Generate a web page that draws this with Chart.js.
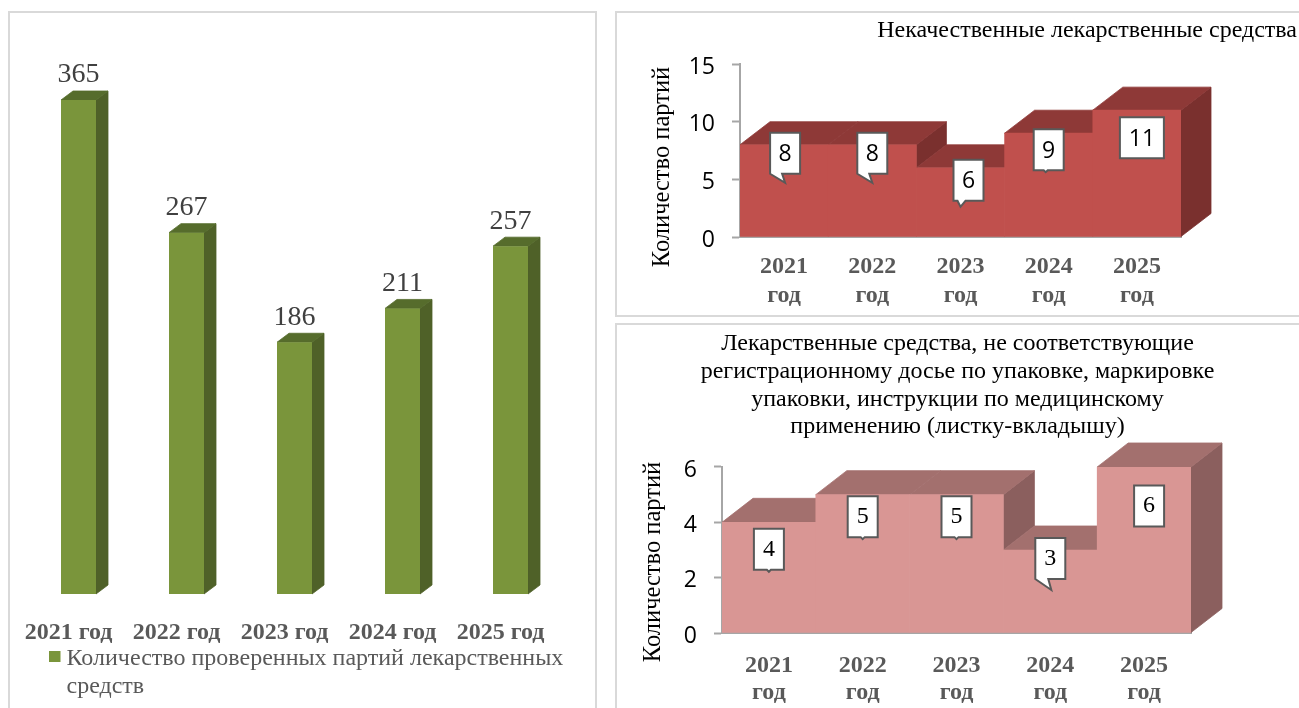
<!DOCTYPE html>
<html>
<head>
<meta charset="utf-8">
<title>Партии лекарственных средств</title>
<script src="https://cdn.jsdelivr.net/npm/chart.js@4"></script>
<style>
  html, body { margin: 0; padding: 0; background: #fff; overflow: hidden; width: 1299px; height: 708px; }
  .panel { position: absolute; border: 2px solid #d9d9d9; box-sizing: border-box; }
  canvas { position: absolute; }
</style>
</head>
<body>
<div class="panel" style="left:8px;top:11px;width:589px;height:720px"></div>
<div class="panel" style="left:615px;top:11px;width:720px;height:306px"></div>
<div class="panel" style="left:615px;top:323px;width:720px;height:420px"></div>
<canvas id="checked" width="587" height="696" style="left:9px;top:12px"></canvas>
<canvas id="poor" width="683" height="304" style="left:616px;top:12px"></canvas>
<canvas id="dossier" width="683" height="384" style="left:616px;top:324px"></canvas>
<script>
const years = ['2021', '2022', '2023', '2024', '2025'];
const checkedBatches = [365, 267, 186, 211, 257];
const poorBatches = [8, 8, 6, 9, 11];
const dossierBatches = [4, 5, 5, 3, 6];

const checkedLegend = ['Количество проверенных партий лекарственных', 'средств'];
const poorTitle = 'Некачественные лекарственные средства';
const dossierTitle = [
  'Лекарственные средства, не соответствующие',
  'регистрационному досье по упаковке, маркировке',
  'упаковки, инструкции по медицинскому',
  'применению (листку-вкладышу)'
];
const axisName = 'Количество партий';

// offsets of the callouts from the top of their bar, tail = [base from, base to, tip x, tip y]
const poorCallouts = [
  { dx: 1, dy: 8.5, w: 30, tail: [0, 12, 15, 9] },
  { dx: 0, dy: 8.5, w: 30, tail: [0, 12, 15, 9] },
  { dx: 8, dy: 12.5, w: 30, tail: [4, 12, 7, 6] },
  { dx: 0, dy: 16.5, w: 30, tail: [10, 14, 12, 2] },
  { dx: 5, dy: 27.5, w: 44 }
];
const dossierCallouts = [
  { dx: 0, dy: 27, w: 30, tail: [13, 17, 15, 2] },
  { dx: 0, dy: 22, w: 30, tail: [13, 17, 15, 2] },
  { dx: 0, dy: 22, w: 30, tail: [13, 17, 15, 2] },
  { dx: 0, dy: 8.5, w: 30, tail: [0, 13, 16, 11] },
  { dx: 5, dy: 39, w: 30 }
];

const SERIF = '"Liberation Serif", "Times New Roman", serif';
const SANS = '"Open Sans", "Noto Sans", sans-serif';
Chart.defaults.animation = false;
Chart.defaults.devicePixelRatio = 1;

function poly(ctx, color, pts) {
  ctx.fillStyle = color;
  ctx.strokeStyle = color;
  ctx.lineWidth = 0.8;
  ctx.beginPath();
  pts.forEach((p, i) => i ? ctx.lineTo(p[0], p[1]) : ctx.moveTo(p[0], p[1]));
  ctx.closePath();
  ctx.fill();
  ctx.stroke();
}

// top and side faces, taken from the bars chart.js laid out
const depthFaces = {
  id: 'depthFaces',
  beforeDatasetsDraw(chart, args, o) {
    const ctx = chart.ctx;
    const bars = chart.getDatasetMeta(0).data;
    ctx.save();
    bars.forEach((bar, i) => {
      const l = bar.x - bar.width / 2, r = bar.x + bar.width / 2;
      let low = bar.base;
      if (o.joined && i < bars.length - 1) low = Math.max(bars[i + 1].y, bar.y);
      if (low > bar.y) {
        poly(ctx, o.side, [[r, bar.y], [r + o.dx, bar.y - o.dy], [r + o.dx, low - o.dy], [r, low]]);
      }
      poly(ctx, o.top, [[l, bar.y], [r, bar.y], [r + o.dx, bar.y - o.dy], [l + o.dx, bar.y - o.dy]]);
    });
    ctx.restore();
  }
};

const callouts = {
  id: 'callouts',
  afterDatasetsDraw(chart, args, o) {
    const ctx = chart.ctx;
    const values = chart.data.datasets[0].data;
    ctx.save();
    chart.getDatasetMeta(0).data.forEach((bar, i) => {
      const c = o.items[i];
      const cx = bar.x + c.dx, cy = bar.y + c.dy, h = 41;
      const l = cx - c.w / 2, r = cx + c.w / 2, t = cy - h / 2, b = cy + h / 2;
      ctx.beginPath();
      ctx.moveTo(l, t);
      ctx.lineTo(r, t);
      ctx.lineTo(r, b);
      if (c.tail) {
        ctx.lineTo(l + c.tail[1], b);
        ctx.lineTo(l + c.tail[2], b + c.tail[3]);
        ctx.lineTo(l + c.tail[0], b);
      }
      ctx.lineTo(l, b);
      ctx.closePath();
      ctx.fillStyle = '#fff';
      ctx.fill();
      ctx.lineWidth = 2;
      ctx.strokeStyle = '#595959';
      ctx.stroke();
      ctx.fillStyle = '#000';
      ctx.font = o.font;
      ctx.textAlign = 'center';
      ctx.textBaseline = 'middle';
      ctx.fillText(String(values[i]), cx, cy + o.textShift);
    });
    ctx.restore();
  }
};

const axisCaption = {
  id: 'axisCaption',
  afterDraw(chart, args, o) {
    const ctx = chart.ctx;
    ctx.save();
    ctx.translate(o.x, o.y);
    ctx.rotate(-Math.PI / 2);
    ctx.font = '24.5px ' + SERIF;
    ctx.fillStyle = '#000';
    ctx.textAlign = 'center';
    ctx.textBaseline = 'middle';
    ctx.fillText(axisName, 0, 0);
    ctx.restore();
  }
};

const topValues = {
  id: 'topValues',
  afterDatasetsDraw(chart) {
    const ctx = chart.ctx;
    const values = chart.data.datasets[0].data;
    ctx.save();
    ctx.font = '28px ' + SERIF;
    ctx.fillStyle = '#404040';
    ctx.textAlign = 'center';
    ctx.textBaseline = 'middle';
    chart.getDatasetMeta(0).data.forEach((bar, i) => {
      ctx.fillText(String(values[i]), bar.x, bar.y - 25);
    });
    ctx.restore();
  }
};

const wrappedLegend = {
  id: 'wrappedLegend',
  afterDraw(chart, args, o) {
    const ctx = chart.ctx;
    ctx.save();
    ctx.fillStyle = o.color;
    ctx.fillRect(40, 639, 11.5, 11);
    ctx.font = '24px ' + SERIF;
    ctx.fillStyle = '#595959';
    ctx.textBaseline = 'middle';
    o.lines.forEach((line, i) => ctx.fillText(line, 57.5, 647 + i * 28));
    ctx.restore();
  }
};

new Chart(document.getElementById('checked'), {
  type: 'bar',
  data: {
    labels: years.map(y => y + ' год'),
    datasets: [{
      label: checkedLegend.join(' '),
      data: checkedBatches,
      backgroundColor: '#7a953b',
      borderWidth: 0,
      barPercentage: 35 / 108,
      categoryPercentage: 1
    }]
  },
  options: {
    responsive: false,
    layout: { padding: { left: 15.5, right: 31.5, top: 88, bottom: 0 } },
    plugins: {
      legend: { display: false },
      tooltip: { enabled: false },
      depthFaces: { dx: 12, dy: 9, top: '#566c2c', side: '#4f6128', joined: false },
      wrappedLegend: { lines: checkedLegend, color: '#7a953b' }
    },
    scales: {
      x: {
        afterFit: s => { s.height = 114; },
        grid: { display: false },
        border: { display: false },
        ticks: {
          padding: 16,
          labelOffset: -10,
          maxRotation: 0,
          autoSkip: false,
          color: '#595959',
          font: { family: SERIF, size: 24, weight: 'bold' }
        }
      },
      y: { display: false, min: 0, max: 365 }
    }
  },
  plugins: [depthFaces, topValues, wrappedLegend]
});

function stepChart(id, values, maxValue, step, cfg) {
  return new Chart(document.getElementById(id), {
    type: 'bar',
    data: {
      labels: years.map(y => [y, 'год']),
      datasets: [{
        label: axisName,
        data: values,
        backgroundColor: cfg.front,
        borderWidth: 0,
        barPercentage: 1,
        categoryPercentage: 1
      }]
    },
    options: {
      responsive: false,
      layout: { padding: { left: 0, right: cfg.edge, top: 0, bottom: 0 } },
      plugins: {
        legend: { display: false },
        tooltip: { enabled: false },
        title: {
          display: true,
          text: cfg.title,
          align: cfg.align,
          color: '#000',
          font: { family: SERIF, size: 24, weight: 'normal', lineHeight: cfg.titleLine },
          padding: cfg.titlePad
        },
        depthFaces: { dx: cfg.dx, dy: cfg.dy, top: cfg.top, side: cfg.side, joined: true },
        callouts: { items: cfg.callouts, font: cfg.labelFont, textShift: cfg.textShift },
        axisCaption: cfg.caption
      },
      scales: {
        x: {
          afterFit: s => { s.height = cfg.xHeight; },
          grid: { display: false },
          border: { color: '#a6a6a6', width: 2 },
          ticks: {
            padding: cfg.xPad,
            maxRotation: 0,
            autoSkip: false,
            color: '#595959',
            font: { family: SERIF, size: 24, weight: 'bold', lineHeight: cfg.xLine }
          }
        },
        y: {
          afterFit: s => { s.width = cfg.yWidth; },
          min: 0,
          max: maxValue,
          grid: { drawOnChartArea: false, color: '#a6a6a6', tickLength: 8, tickWidth: 2 },
          border: { color: '#a6a6a6', width: 2 },
          ticks: { stepSize: step, padding: 17, labelOffset: 3, color: '#000', font: { family: SANS, size: 23 } }
        },
        // empty axis, keeps the space right of the plot while the title uses the full width
        spacer: {
          position: 'right',
          afterFit: s => { s.width = cfg.spacer; },
          grid: { display: false },
          border: { display: false },
          ticks: { display: false }
        }
      }
    },
    plugins: [depthFaces, callouts, axisCaption]
  });
}

stepChart('poor', poorBatches, 15, 5, {
  front: '#c0504d', top: '#8e3937', side: '#7a302e', dx: 30, dy: 23,
  edge: 2, spacer: 116, yWidth: 124, xHeight: 79, xPad: 7, xLine: 1.21,
  title: poorTitle, align: 'end', titleLine: 1.2, titlePad: { top: 4.6, bottom: 18.6 },
  callouts: poorCallouts, labelFont: '23px ' + SANS, textShift: 1.5,
  caption: { x: 47, y: 155 }
});

stepChart('dossier', dossierBatches, 6, 2, {
  front: '#d99694', top: '#a3706e', side: '#8b5f5e', dx: 31, dy: 24,
  edge: 0, spacer: 108, yWidth: 106, xHeight: 75, xPad: 11, xLine: 1.13,
  title: dossierTitle, align: 'center', titleLine: 1.154, titlePad: { top: 6, bottom: 26.2 },
  callouts: dossierCallouts, labelFont: '24px ' + SERIF, textShift: 0,
  caption: { x: 38, y: 238 }
});
</script>
</body>
</html>
